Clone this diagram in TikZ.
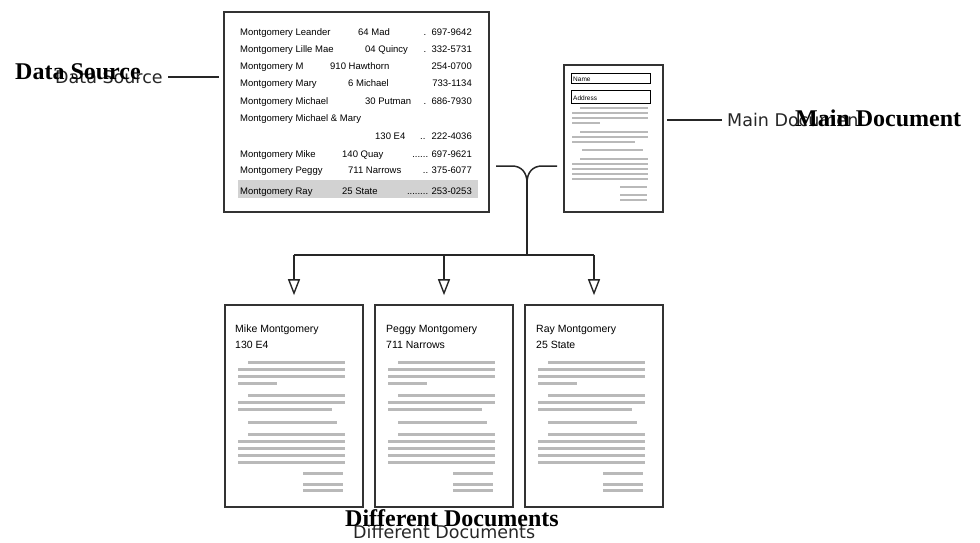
\documentclass[tikz,border=0pt]{standalone}
\usepackage{fontspec}
\setmainfont{Liberation Serif}
\setsansfont{Liberation Sans}
\newfontfamily\labelsans{DejaVu Sans}
\usetikzlibrary{arrows.meta}

\tikzset{
  page/.style={draw=black!80, line width=1.6pt, inner sep=0pt},
  txtline/.style={line width=3pt, gray!55},
  mtxtline/.style={line width=2.4pt, gray!55},
  rowtext/.style={anchor=base west, inner sep=0pt, font=\sffamily\fontsize{9.5}{9.5}\selectfont},
  teltext/.style={anchor=base east, inner sep=0pt, font=\sffamily\fontsize{9.5}{9.5}\selectfont},
  headtext/.style={anchor=base west, inner sep=0pt, font=\sffamily\fontsize{10.5}{10.5}\selectfont},
  fieldtext/.style={anchor=base west, inner sep=0pt, font=\sffamily\fontsize{6.5}{6.5}\selectfont},
  seriflabel/.style={anchor=base west, inner sep=0pt, font=\bfseries\fontsize{24}{24}\selectfont},
  sanslabel/.style={anchor=base west, inner sep=0pt, font=\labelsans\fontsize{17.5}{17.5}\selectfont, text=black!85},
  link/.style={draw=black!85, line width=1.5pt},
  drop/.style={link, -{Triangle[open, width=12pt, length=16pt, line width=1.4pt]}},
}

\begin{document}
\begin{tikzpicture}[x=1pt, y=-1pt]

    \useasboundingbox (0,0) rectangle (980,542);

    % Boxes
    \node[page, line width=2pt, minimum width=265pt, minimum height=200pt] (data) at (356.5,112) {};
    \node[page, minimum width=99pt, minimum height=147pt] (main) at (613.5,138.5) {};
    \node[page, minimum width=138pt, minimum height=202pt] (doc1) at (294,406) {};
    \node[page, minimum width=138pt, minimum height=202pt] (doc2) at (444,406) {};
    \node[page, minimum width=138pt, minimum height=202pt] (doc3) at (594,406) {};

    % Data source rows
    \fill[gray!35] (238,180) rectangle (478,198);
    \node[rowtext] (n1) at (240,35) {Montgomery Leander};
    \node[rowtext] (a1) at (358,35) {64 Mad};
    \node[teltext] (t1) at (472,35) {.\ \ 697-9642};
    \node[rowtext] (n2) at (240,52) {Montgomery Lille Mae};
    \node[rowtext] (a2) at (365,52) {04 Quincy};
    \node[teltext] (t2) at (472,52) {.\ \ 332-5731};
    \node[rowtext] (n3) at (240,69) {Montgomery M};
    \node[rowtext] (a3) at (330,69) {910 Hawthorn};
    \node[teltext] (t3) at (472,69) {254-0700};
    \node[rowtext] (n4) at (240,86) {Montgomery Mary};
    \node[rowtext] (a4) at (348,86) {6 Michael};
    \node[teltext] (t4) at (472,86) {733-1134};
    \node[rowtext] (n5) at (240,104) {Montgomery Michael};
    \node[rowtext] (a5) at (365,104) {30 Putman};
    \node[teltext] (t5) at (472,104) {.\ \ 686-7930};
    \node[rowtext] (n6) at (240,121) {Montgomery Michael \& Mary};
    \node[rowtext] (a6) at (375,139) {130 E4};
    \node[teltext] (t6) at (472,139) {.. \ 222-4036};
    \node[rowtext] (n7) at (240,157) {Montgomery Mike};
    \node[rowtext] (a7) at (342,157) {140 Quay};
    \node[teltext] (t7) at (472,157) {...... 697-9621};
    \node[rowtext] (n8) at (240,173) {Montgomery Peggy};
    \node[rowtext] (a8) at (348,173) {711 Narrows};
    \node[teltext] (t8) at (472,173) {.. 375-6077};
    \node[rowtext] (n9) at (240,194) {Montgomery Ray};
    \node[rowtext] (a9) at (342,194) {25 State};
    \node[teltext] (t9) at (472,194) {........ 253-0253};

    % Main document
    \draw (571,73) rectangle (650,83);
    \node[fieldtext] (fname) at (573,81) {Name};
    \draw (571,90) rectangle (650,103);
    \node[fieldtext] (faddr) at (573,100) {Address};
    \draw[mtxtline] (580,108) -- (648,108);
    \draw[mtxtline] (572,113) -- (648,113);
    \draw[mtxtline] (572,118) -- (648,118);
    \draw[mtxtline] (572,123) -- (600,123);
    \draw[mtxtline] (580,132) -- (648,132);
    \draw[mtxtline] (572,137) -- (648,137);
    \draw[mtxtline] (572,142) -- (635,142);
    \draw[mtxtline] (582,150) -- (643,150);
    \draw[mtxtline] (580,159) -- (648,159);
    \draw[mtxtline] (572,164) -- (648,164);
    \draw[mtxtline] (572,169) -- (648,169);
    \draw[mtxtline] (572,174) -- (648,174);
    \draw[mtxtline] (572,179) -- (648,179);
    \draw[mtxtline] (620,187) -- (647,187);
    \draw[mtxtline] (620,195) -- (647,195);
    \draw[mtxtline] (620,200) -- (647,200);

    % Merged documents
    \node[headtext] (h1) at (235,332) {Mike Montgomery};
    \node[headtext] (s1) at (235,348) {130 E4};
    \node[headtext] (h2) at (386,332) {Peggy Montgomery};
    \node[headtext] (s2) at (386,348) {711 Narrows};
    \node[headtext] (h3) at (536,332) {Ray Montgomery};
    \node[headtext] (s3) at (536,348) {25 State};

    % doc 1
    \begin{scope}[shift={(225,305)}]
    \draw[txtline] (23,57) -- (120,57);
    \draw[txtline] (13,64) -- (120,64);
    \draw[txtline] (13,71) -- (120,71);
    \draw[txtline] (13,78) -- (52,78);
    \draw[txtline] (23,90) -- (120,90);
    \draw[txtline] (13,97) -- (120,97);
    \draw[txtline] (13,104) -- (107,104);
    \draw[txtline] (23,117) -- (112,117);
    \draw[txtline] (23,129) -- (120,129);
    \draw[txtline] (13,136) -- (120,136);
    \draw[txtline] (13,143) -- (120,143);
    \draw[txtline] (13,150) -- (120,150);
    \draw[txtline] (13,157) -- (120,157);
    \draw[txtline] (78,168) -- (118,168);
    \draw[txtline] (78,179) -- (118,179);
    \draw[txtline] (78,185) -- (118,185);
    \end{scope}

    % doc 2
    \begin{scope}[shift={(375,305)}]
    \draw[txtline] (23,57) -- (120,57);
    \draw[txtline] (13,64) -- (120,64);
    \draw[txtline] (13,71) -- (120,71);
    \draw[txtline] (13,78) -- (52,78);
    \draw[txtline] (23,90) -- (120,90);
    \draw[txtline] (13,97) -- (120,97);
    \draw[txtline] (13,104) -- (107,104);
    \draw[txtline] (23,117) -- (112,117);
    \draw[txtline] (23,129) -- (120,129);
    \draw[txtline] (13,136) -- (120,136);
    \draw[txtline] (13,143) -- (120,143);
    \draw[txtline] (13,150) -- (120,150);
    \draw[txtline] (13,157) -- (120,157);
    \draw[txtline] (78,168) -- (118,168);
    \draw[txtline] (78,179) -- (118,179);
    \draw[txtline] (78,185) -- (118,185);
    \end{scope}

    % doc 3
    \begin{scope}[shift={(525,305)}]
    \draw[txtline] (23,57) -- (120,57);
    \draw[txtline] (13,64) -- (120,64);
    \draw[txtline] (13,71) -- (120,71);
    \draw[txtline] (13,78) -- (52,78);
    \draw[txtline] (23,90) -- (120,90);
    \draw[txtline] (13,97) -- (120,97);
    \draw[txtline] (13,104) -- (107,104);
    \draw[txtline] (23,117) -- (112,117);
    \draw[txtline] (23,129) -- (120,129);
    \draw[txtline] (13,136) -- (120,136);
    \draw[txtline] (13,143) -- (120,143);
    \draw[txtline] (13,150) -- (120,150);
    \draw[txtline] (13,157) -- (120,157);
    \draw[txtline] (78,168) -- (118,168);
    \draw[txtline] (78,179) -- (118,179);
    \draw[txtline] (78,185) -- (118,185);
    \end{scope}

    % Labels (two copies on top of each other)
    \node[sanslabel] (datasans) at (55,83) {Data Source};
    \node[seriflabel] (datalbl) at (15,79) {Data Source};
    \node[sanslabel] (mainsans) at (727,126) {Main Document};
    \node[seriflabel] (mainlbl) at (795,126) {Main Document};
    \node[sanslabel] (diffsans) at (353,538) {Different Documents};
    \node[seriflabel] (difflbl) at (345,526) {Different Documents};

    % Connectors
    \coordinate (dataend) at (168,77);
    \coordinate (mainend) at (722,120);
    \draw[link, shorten >=4pt] (dataend) -- (data.west |- dataend);
    \draw[link, shorten <=3pt] (main.east |- mainend) -- (mainend);

    \coordinate (fork) at (527,183);
    \coordinate (bus) at (527,255);
    \draw[link] ([xshift=6pt]data.east |- 0,166) -- (512,166) .. controls (521,166) and (527,172) .. (fork);
    \draw[link] ([xshift=-6pt]main.west |- 0,166) -- (542,166) .. controls (533,166) and (527,172) .. (fork);
    \draw[link] (fork) -- (bus);
    \draw[link] (doc1.north |- bus) -- (doc3.north |- bus);
    \draw[drop] (doc1.north |- bus) -- ([yshift=9pt]doc1.north);
    \draw[drop] (doc2.north |- bus) -- ([yshift=9pt]doc2.north);
    \draw[drop] (doc3.north |- bus) -- ([yshift=9pt]doc3.north);

\end{tikzpicture}
\end{document}
